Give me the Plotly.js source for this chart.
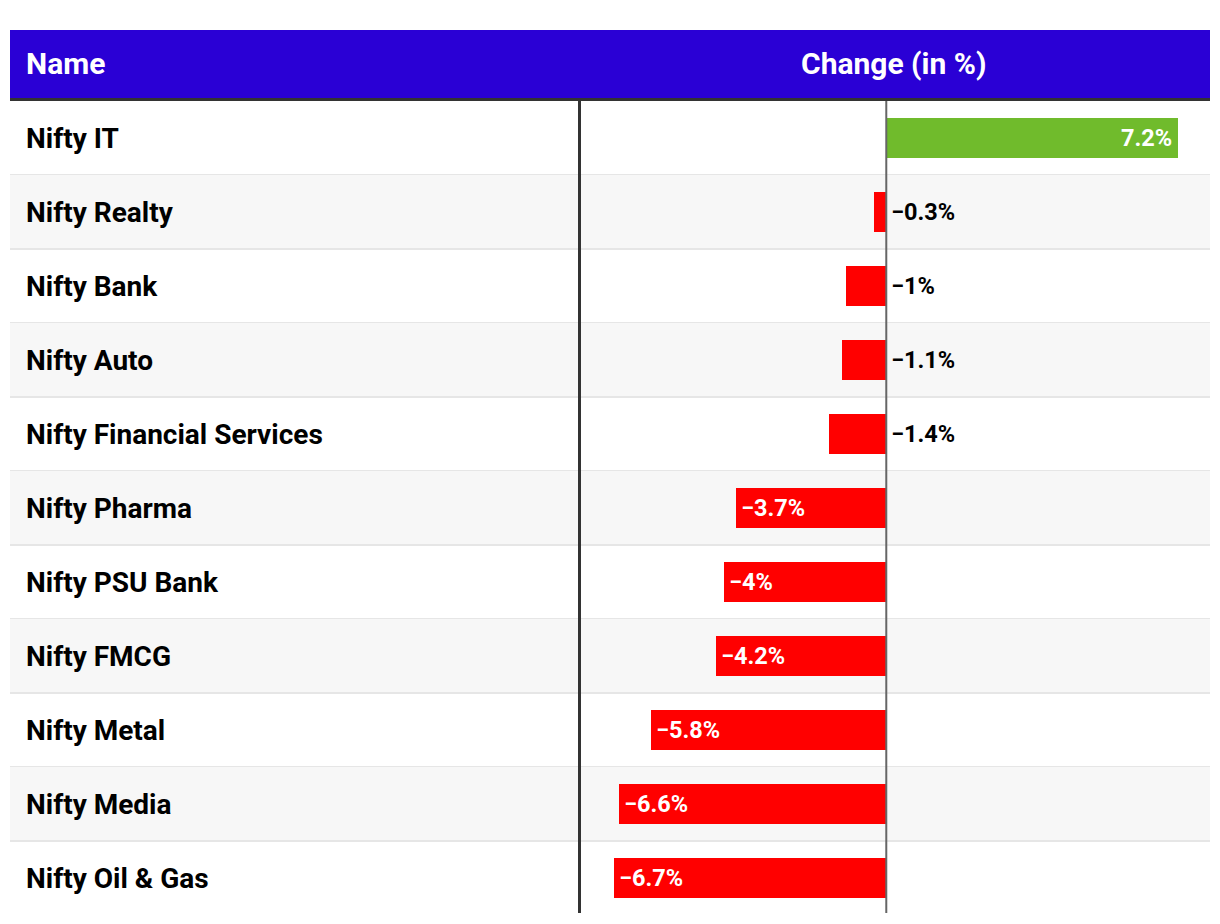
<!DOCTYPE html>
<html><head><meta charset="utf-8">
<script src="https://cdn.plot.ly/plotly-3.0.1.min.js"></script>
<style>html,body{margin:0;padding:0;background:#fff;}#chart{width:1220px;height:924px;}</style>
</head><body><div id="chart"></div>
<script>
const names = ["Nifty IT","Nifty Realty","Nifty Bank","Nifty Auto","Nifty Financial Services","Nifty Pharma","Nifty PSU Bank","Nifty FMCG","Nifty Metal","Nifty Media","Nifty Oil & Gas"];
const changes = [7.2,-0.3,-1,-1.1,-1.4,-3.7,-4,-4.2,-5.8,-6.6,-6.7];
const headers = ["Name","Change (in %)"];

const W = 1220, H = 924;
const px = v => v / W, py = v => 1 - v / H;
const FONT = "Roboto, 'Noto Sans', sans-serif";
const GREEN = "#70bb2c", RED = "#ff0000";

function fmt(v){ return (v < 0 ? "\u2212" : "") + Math.abs(v) + "%"; }

const trace = {
  type: "bar", orientation: "h",
  x: changes, y: names,
  marker: {color: changes.map(v => v >= 0 ? GREEN : RED), line: {width: 0}},
  width: 0.54, hoverinfo: "skip", textposition: "none"
};

const shapes = [];
// header
shapes.push({type:"rect", xref:"paper", yref:"paper", x0:px(10), x1:px(1210), y0:py(98), y1:py(30), fillcolor:"#2a00d5", line:{width:0}, layer:"below"});
shapes.push({type:"rect", xref:"paper", yref:"paper", x0:px(10), x1:px(1210), y0:py(101), y1:py(98), fillcolor:"#333333", line:{width:0}, layer:"below"});
// row backgrounds and separators
names.forEach((n, i) => {
  if (i % 2 === 1) shapes.push({type:"rect", xref:"paper", yref:"y", x0:px(10), x1:px(1210), y0:i-0.5, y1:i+0.5, fillcolor:"#f7f7f7", line:{width:0}, layer:"below"});
  if (i < names.length - 1) shapes.push({type:"line", xref:"paper", yref:"y", x0:px(10), x1:px(1210), y0:i+0.5, y1:i+0.5, line:{color:"#e6e6e6", width:2}, layer:"below"});
});
// column divider
shapes.push({type:"line", xref:"paper", yref:"paper", x0:px(579.5), x1:px(579.5), y0:py(913), y1:py(101), line:{color:"#333333", width:3}, layer:"above"});
// zero line
shapes.push({type:"line", xref:"x", yref:"paper", x0:0, x1:0, y0:py(913), y1:py(101), line:{color:"#666666", width:2}, layer:"above"});

const annotations = [];
annotations.push({xref:"paper", yref:"paper", x:px(24), y:py(64), xanchor:"left", yanchor:"middle", text:headers[0], showarrow:false, font:{family:FONT, size:30, color:"#ffffff", weight:700}});
annotations.push({xref:"paper", yref:"paper", x:px(894), y:py(64), xanchor:"center", yanchor:"middle", text:headers[1], showarrow:false, font:{family:FONT, size:30, color:"#ffffff", weight:700}});
names.forEach((n, i) => {
  annotations.push({xref:"paper", yref:"y", x:px(24), y:n, xanchor:"left", yanchor:"middle", text:n.replace("&","&amp;"), showarrow:false, font:{family:FONT, size:28, color:"#000000", weight:700}});
  const v = changes[i];
  let a;
  if (v >= 0) a = {x:v, xanchor:"right", xshift:-4, color:"#ffffff"};
  else if (v > -2) a = {x:0, xanchor:"left", xshift:3, color:"#000000"};
  else a = {x:v, xanchor:"left", xshift:3, color:"#ffffff"};
  annotations.push({xref:"x", yref:"y", x:a.x, y:n, xanchor:a.xanchor, xshift:a.xshift, yanchor:"middle", yshift:0, text:fmt(v), showarrow:false, font:{family:FONT, size:23.5, color:a.color, weight:700}});
});

const layout = {
  width: W, height: H,
  margin: {l:0, r:0, t:0, b:0},
  paper_bgcolor: "#ffffff", plot_bgcolor: "rgba(0,0,0,0)",
  showlegend: false,
  xaxis: {domain:[px(580), px(1210)], range:[-7.55, 7.98], showgrid:false, zeroline:false, showticklabels:false, ticks:"", fixedrange:true},
  yaxis: {domain:[py(915), py(101)], range:[names.length - 0.5, -0.5], type:"category", showgrid:false, zeroline:false, showticklabels:false, ticks:"", fixedrange:true},
  shapes: shapes, annotations: annotations,
  bargap: 0
};

Plotly.newPlot("chart", [trace], layout, {displayModeBar:false, staticPlot:true});
</script></body></html>
